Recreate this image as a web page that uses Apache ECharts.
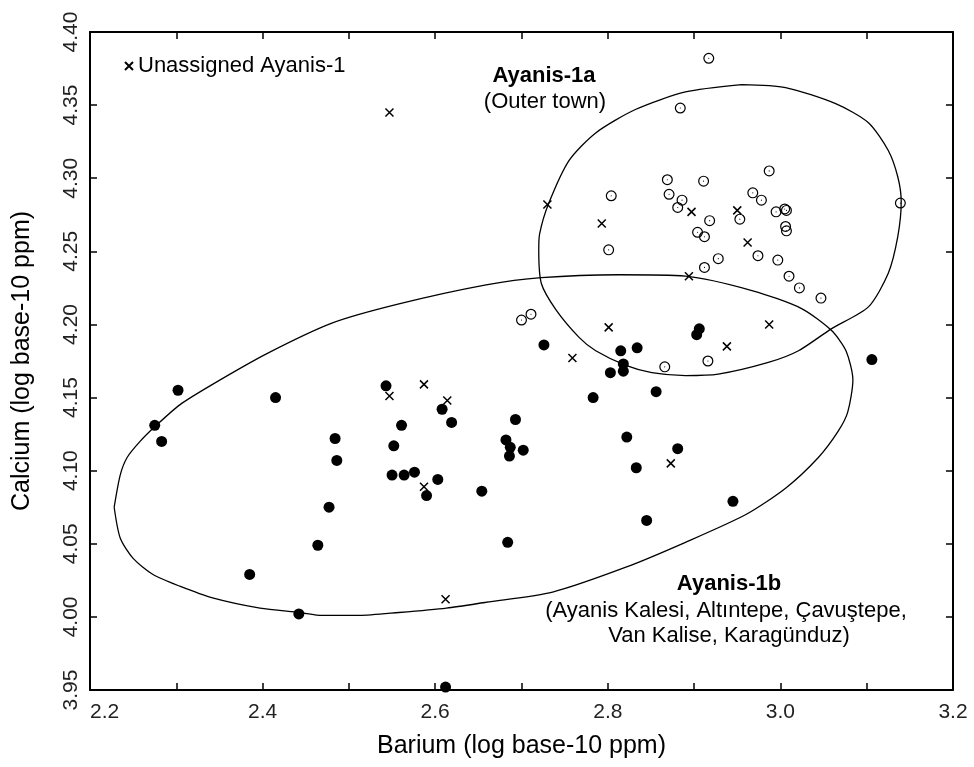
<!DOCTYPE html>
<html lang="en">

<head>
    <meta charset="utf-8">
    <title>Ayanis-1 Barium vs Calcium</title>
    <script src="https://cdn.jsdelivr.net/npm/echarts@6/dist/echarts.min.js"></script>
    <style>
        html,
        body,
        #main {
            width: 100%;
            height: 100%;
            margin: 0;
            padding: 0;
            overflow: hidden;
            background-color: #ffffff;
        }
    </style>
</head>

<body>
    <div id="main"></div>
    <script>
        // Ayanis-1b (filled dots) [barium, calcium]
        var group1b = [
            [2.275, 4.131], [2.283, 4.120], [2.302, 4.155], [2.415, 4.150], [2.385, 4.029],
            [2.442, 4.002], [2.464, 4.049], [2.477, 4.075], [2.484, 4.122], [2.486, 4.107],
            [2.543, 4.158], [2.561, 4.131], [2.552, 4.117], [2.550, 4.097], [2.564, 4.097],
            [2.576, 4.099], [2.590, 4.083], [2.603, 4.094], [2.608, 4.142], [2.619, 4.133],
            [2.654, 4.086], [2.693, 4.135], [2.682, 4.121], [2.687, 4.116], [2.686, 4.110],
            [2.702, 4.114], [2.684, 4.051], [2.612, 3.952], [2.726, 4.186], [2.815, 4.182],
            [2.834, 4.184], [2.818, 4.173], [2.818, 4.168], [2.803, 4.167], [2.906, 4.197],
            [2.903, 4.193], [2.783, 4.150], [2.856, 4.154], [2.822, 4.123], [2.881, 4.115],
            [2.833, 4.102], [2.845, 4.066], [3.106, 4.176], [2.945, 4.079]
        ];

        // Ayanis-1a (open circles)
        var group1a = [
            [2.917, 4.382], [2.884, 4.348], [2.987, 4.305], [2.869, 4.299], [2.911, 4.298],
            [2.804, 4.288], [2.871, 4.289], [2.886, 4.285], [2.881, 4.280], [2.968, 4.290],
            [2.978, 4.285], [2.995, 4.277], [3.005, 4.279], [3.007, 4.278], [3.139, 4.283],
            [2.918, 4.271], [2.953, 4.272], [2.904, 4.263], [2.912, 4.260], [3.006, 4.267],
            [3.007, 4.264], [2.801, 4.251], [2.928, 4.245], [2.912, 4.239], [2.974, 4.247],
            [2.997, 4.244], [3.010, 4.233], [3.022, 4.225], [3.047, 4.218], [2.700, 4.203],
            [2.711, 4.207], [2.866, 4.171], [2.916, 4.175]
        ];

        // unassigned (crosses)
        var unassigned = [
            [2.547, 4.345], [2.547, 4.151], [2.587, 4.159], [2.614, 4.148], [2.587, 4.089],
            [2.612, 4.012], [2.759, 4.177], [2.801, 4.198], [2.873, 4.105], [2.938, 4.185],
            [2.987, 4.200], [2.730, 4.282], [2.793, 4.269], [2.897, 4.277], [2.894, 4.233],
            [2.950, 4.278], [2.962, 4.256]
        ];

        // ellipse outlines
        var ellipse1b = [
            [2.228, 4.075], [2.235, 4.097], [2.243, 4.109], [2.258, 4.120], [2.275, 4.130],
            [2.304, 4.145], [2.342, 4.159], [2.405, 4.180], [2.481, 4.201], [2.558, 4.214],
            [2.659, 4.227], [2.723, 4.232], [2.813, 4.234], [2.890, 4.233], [2.968, 4.223],
            [3.024, 4.211], [3.059, 4.196], [3.076, 4.182], [3.084, 4.162], [3.078, 4.140],
            [3.067, 4.127], [3.044, 4.109], [3.006, 4.088], [2.960, 4.070], [2.890, 4.051],
            [2.821, 4.034], [2.736, 4.017], [2.659, 4.010], [2.613, 4.006], [2.558, 4.003],
            [2.512, 4.001], [2.469, 4.001], [2.443, 4.003], [2.397, 4.006], [2.342, 4.013],
            [2.304, 4.021], [2.273, 4.029], [2.250, 4.040], [2.235, 4.054], [2.228, 4.075]
        ];

        var ellipse1a = [
            [2.955, 4.364], [3.006, 4.362], [3.064, 4.351], [3.102, 4.338], [3.125, 4.319],
            [3.136, 4.301], [3.140, 4.284], [3.136, 4.260], [3.125, 4.235], [3.102, 4.212],
            [3.059, 4.197], [3.021, 4.182], [2.986, 4.174], [2.928, 4.166], [2.890, 4.165],
            [2.851, 4.167], [2.821, 4.172], [2.786, 4.182], [2.767, 4.191], [2.740, 4.210],
            [2.723, 4.228], [2.720, 4.251], [2.721, 4.262], [2.731, 4.282], [2.755, 4.312],
            [2.786, 4.331], [2.832, 4.347], [2.890, 4.359], [2.955, 4.364]
        ];

        var xTicks = { min: 2.2, max: 3.2, step: 0.2 };
        var yTicks = { min: 3.95, max: 4.40, step: 0.05 };

        var font = '"Liberation Sans", Arial, Helvetica, sans-serif';

        // ring with a centre dot, and an x
        var ringSymbol = 'path://M10,0 A10,10 0 1,1 10,20 A10,10 0 1,1 10,0 Z M10,2.2 A7.8,7.8 0 1,0 10,17.8 A7.8,7.8 0 1,0 10,2.2 Z M10,9 A1,1 0 1,1 10,11 A1,1 0 1,1 10,9 Z';
        var crossSymbol = 'path://M0,0 L10,10 M10,0 L0,10';

        var chart = echarts.init(document.getElementById('main'));

        function frameAxis(pos, range, isX, withLabels) {
            var axis = {
                type: 'value',
                position: pos,
                min: range.min,
                max: range.max,
                interval: range.step,
                axisLine: { show: true, onZero: false, lineStyle: { color: '#000', width: 2 } },
                axisTick: { show: true, inside: true, length: 7, lineStyle: { color: '#000', width: 1.5 } },
                splitLine: { show: false },
                axisLabel: { show: false }
            };
            if (isX) {
                axis.minorTick = { show: true, splitNumber: 2, length: 7, lineStyle: { color: '#000', width: 1.5 } };
            }
            if (withLabels) {
                axis.axisLabel = {
                    show: true,
                    color: '#222',
                    fontFamily: font,
                    fontSize: 21,
                    margin: isX ? 12 : 8,
                    rotate: isX ? 0 : 90,
                    formatter: function (v) { return v.toFixed(isX ? 1 : 2); }
                };
                if (isX) axis.axisLabel.alignMinLabel = 'left';
            }
            return axis;
        }

        var xBottom = frameAxis('bottom', xTicks, true, true);
        xBottom.name = 'Barium (log base-10 ppm)';
        xBottom.nameLocation = 'middle';
        xBottom.nameGap = 44;
        xBottom.nameTextStyle = { fontFamily: font, fontSize: 25, color: '#000' };

        var yLeft = frameAxis('left', yTicks, false, true);
        yLeft.name = 'Calcium (log base-10 ppm)';
        yLeft.nameLocation = 'middle';
        yLeft.nameGap = 55;
        yLeft.nameTextStyle = { fontFamily: font, fontSize: 25, color: '#000' };

        function outline(data) {
            return {
                type: 'line',
                data: data,
                showSymbol: false,
                smooth: 0.25,
                silent: true,
                lineStyle: { color: '#000', width: 1.3 },
                xAxisIndex: 0,
                yAxisIndex: 0,
                z: 1
            };
        }

        var option = {
            animation: false,
            backgroundColor: '#fff',
            grid: { left: 90, right: 21, top: 32, bottom: 77 },
            legend: {
                data: ['Unassigned Ayanis-1'],
                left: 119,
                top: 50,
                itemWidth: 8,
                itemHeight: 8,
                itemGap: 6,
                textStyle: { fontFamily: font, fontSize: 22, color: '#000' }
            },
            xAxis: [xBottom, frameAxis('top', xTicks, true, false)],
            yAxis: [yLeft, frameAxis('right', yTicks, false, false)],
            series: [
                outline(ellipse1b),
                outline(ellipse1a),
                {
                    name: 'Ayanis-1b',
                    type: 'scatter',
                    data: group1b,
                    symbol: 'circle',
                    symbolSize: 11,
                    itemStyle: { color: '#000', opacity: 1 },
                    z: 3
                },
                {
                    name: 'Ayanis-1a',
                    type: 'scatter',
                    data: group1a,
                    symbol: ringSymbol,
                    symbolSize: 11,
                    itemStyle: { color: '#000', opacity: 1 },
                    z: 3
                },
                {
                    name: 'Unassigned Ayanis-1',
                    type: 'scatter',
                    data: unassigned,
                    symbol: crossSymbol,
                    symbolSize: 8,
                    itemStyle: { color: 'transparent', borderColor: '#000', borderWidth: 1.5, opacity: 1 },
                    z: 3
                }
            ],
            graphic: [
                { type: 'text', x: 544, y: 76, style: { text: 'Ayanis-1a', font: 'bold 22px ' + font, fill: '#000', align: 'center', verticalAlign: 'middle' } },
                { type: 'text', x: 545, y: 102, style: { text: '(Outer town)', font: '22px ' + font, fill: '#000', align: 'center', verticalAlign: 'middle' } },
                { type: 'text', x: 729, y: 584, style: { text: 'Ayanis-1b', font: 'bold 22px ' + font, fill: '#000', align: 'center', verticalAlign: 'middle' } },
                { type: 'text', x: 726, y: 611, style: { text: '(Ayanis Kalesi, Altıntepe, Çavuştepe,', font: '22px ' + font, fill: '#000', align: 'center', verticalAlign: 'middle' } },
                { type: 'text', x: 729, y: 636, style: { text: 'Van Kalise, Karagünduz)', font: '22px ' + font, fill: '#000', align: 'center', verticalAlign: 'middle' } }
            ]
        };

        chart.setOption(option);
    </script>
</body>

</html>
